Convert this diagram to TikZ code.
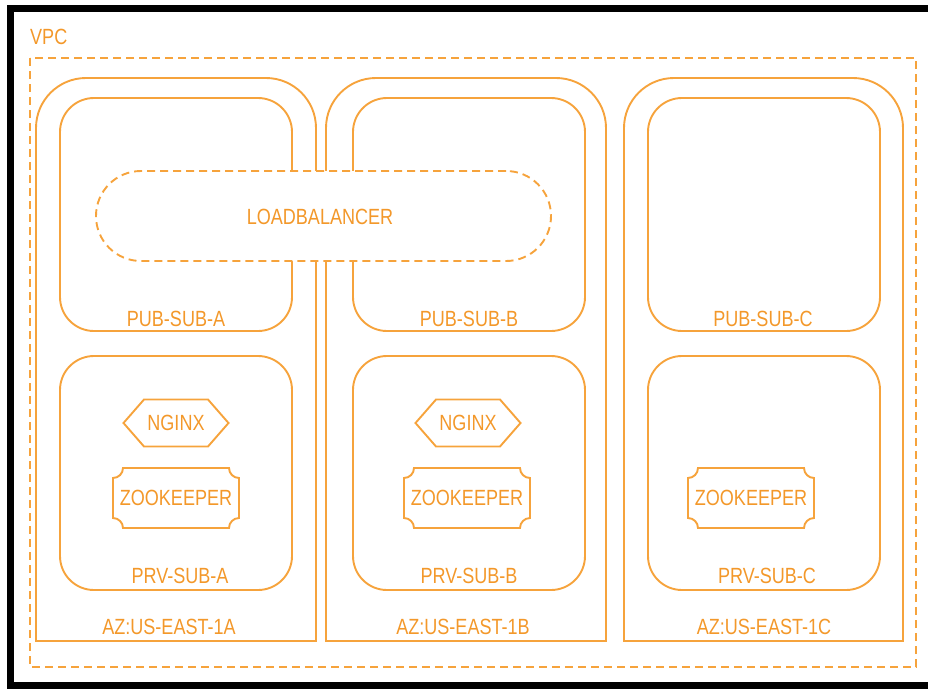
\documentclass[tikz,border=0pt]{standalone}
\usepackage{fontspec}
\setmainfont{Liberation Sans}[FakeStretch=0.82]
\definecolor{aws}{RGB}{246,163,60}
\definecolor{awstext}{RGB}{243,152,42}
\begin{document}
\begin{tikzpicture}[x=1pt,y=1pt,yscale=-1,
  ln/.style={draw=aws,line width=1.9pt},
  subnet/.style={ln,rounded corners=34pt,minimum width=232pt,inner sep=0pt},
  dsh/.style={ln,dash pattern=on 8pt off 5pt},
  lbl/.style={text=awstext,font=\fontsize{22}{25}\selectfont,inner sep=0pt},
  frame/.style={fill=black}]
\useasboundingbox (0,0) rectangle (928,689);
% black frame
\fill[frame] (7,5) rectangle (928,12);
\fill[frame] (7,5) rectangle (14,689);
\fill[frame] (7,682) rectangle (928,689);
% VPC
\draw[dsh] (30,58) rectangle (916,667);
\node[lbl,anchor=west] (vpc) at (30,37) {VPC};
% availability zones
\draw[ln] (36,641) -- (36,300) [rounded corners=50pt] -- (36,78) -- (316,78) -- (316,300) [sharp corners] -- (316,641) -- cycle;
\draw[ln] (326,641) -- (326,300) [rounded corners=50pt] -- (326,78) -- (606,78) -- (606,300) [sharp corners] -- (606,641) -- cycle;
\draw[ln] (624,641) -- (624,300) [rounded corners=50pt] -- (624,78) -- (903,78) -- (903,300) [sharp corners] -- (903,641) -- cycle;
% subnets
\node[subnet,minimum height=233pt] (pubA) at (176,214.5) {};
\node[subnet,minimum height=233pt] (pubB) at (469,214.5) {};
\node[subnet,minimum height=233pt] (pubC) at (764,214.5) {};
\node[subnet,minimum height=234pt] (prvA) at (176,473) {};
\node[subnet,minimum height=234pt] (prvB) at (469,473) {};
\node[subnet,minimum height=234pt] (prvC) at (764,473) {};
% load balancer
\node[dsh,fill=white,rounded corners=44.9pt,minimum width=455pt,minimum height=90pt,inner sep=0pt] (lbbox) at (323.5,216) {};
\node[lbl] (lb) at (320,217) {LOADBALANCER};
% nginx
\node[lbl] (ngA) at (176,423) {NGINX};
\node[lbl] (ngB) at (468,423) {NGINX};
\foreach \n in {ngA,ngB}{
  \draw[ln,shift={(\n)}] (-52.5,0) -- (-32,-23.5) -- (32,-23.5) -- (52.5,0) -- (32,23.5) -- (-32,23.5) -- cycle;
}
% zookeeper
\node[lbl] (zkA) at (176,498) {ZOOKEEPER};
\node[lbl] (zkB) at (467,498) {ZOOKEEPER};
\node[lbl] (zkC) at (751,498) {ZOOKEEPER};
\foreach \n in {zkA,zkB,zkC}{
  \draw[ln,shift={(\n)}] (-53,-30) -- (53,-30) .. controls (53,-24.5) and (57.5,-20) .. (63,-20)
    -- (63,20) .. controls (57.5,20) and (53,24.5) .. (53,30)
    -- (-53,30) .. controls (-53,24.5) and (-57.5,20) .. (-63,20)
    -- (-63,-20) .. controls (-57.5,-20) and (-53,-24.5) .. (-53,-30) -- cycle;
}
% labels
\node[lbl] (lpubA) at (176,319) {PUB-SUB-A};
\node[lbl] (lpubB) at (469,319) {PUB-SUB-B};
\node[lbl] (lpubC) at (763,319) {PUB-SUB-C};
\node[lbl] (lprvA) at (180,576) {PRV-SUB-A};
\node[lbl] (lprvB) at (469,576) {PRV-SUB-B};
\node[lbl] (lprvC) at (767,576) {PRV-SUB-C};
\node[lbl] (lazA) at (169,627) {AZ:US-EAST-1A};
\node[lbl] (lazB) at (463,627) {AZ:US-EAST-1B};
\node[lbl] (lazC) at (764,627) {AZ:US-EAST-1C};
\end{tikzpicture}
\end{document}
